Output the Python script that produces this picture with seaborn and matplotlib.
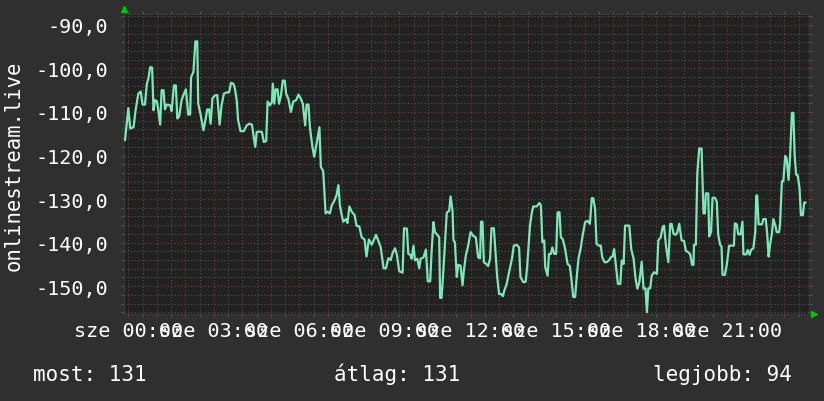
import pandas as pd
import matplotlib
matplotlib.use('Agg')
import matplotlib.pyplot as plt
from matplotlib.ticker import MultipleLocator
import seaborn as sns

# minutes since midnight, value
minutes = [
    -7, 0, 4, 11, 15, 21, 26, 30, 35, 39, 42, 46, 50, 53, 56, 60, 63, 67, 70, 74,
    77, 81, 88, 91, 96, 100, 103, 107, 112, 117, 121, 126, 130, 132, 137, 141, 145, 147, 152, 158,
    163, 166, 170, 173, 177, 182, 187, 192, 196, 201, 207, 212, 216, 221, 224, 228, 231, 236, 243, 249,
    255, 260, 263, 267, 270, 276, 281, 285,
    290, 293, 298, 302, 304, 307, 310, 314, 317, 321, 325, 329, 332, 337, 342, 347, 353, 358, 363, 367,
    372, 375, 379, 382, 387, 391, 396, 402, 405, 410, 415, 419, 424, 428, 433, 438, 442, 445, 449, 452,
    458, 461, 465, 470, 476, 480, 486, 491, 497, 501, 506, 512, 517, 521, 526, 531, 537, 542, 547, 552,
    556, 561, 565, 570, 577,
    580, 586, 589, 593, 596, 600, 603, 608, 612, 615, 621, 626, 630, 635, 638, 642, 645, 650, 654, 656,
    659, 663, 667, 670, 675, 678, 682, 684, 687, 691, 694, 699, 703, 706, 710, 715, 720, 726, 731, 736,
    740, 742, 745, 748, 753, 757, 761, 764, 769, 773, 776, 780, 784, 788, 791, 796, 801, 807, 811, 817,
    822, 825, 831, 836, 839, 842, 845, 849, 852, 859, 865, 868, 871, 875,
    877, 882, 885, 889, 892, 896, 900, 903, 907, 910, 914, 919, 924, 929, 933, 936, 940, 943, 947, 952,
    956, 961, 966, 971, 975, 978, 982, 985, 990, 994, 997, 1002, 1006, 1011, 1015, 1019, 1022, 1026, 1030, 1035,
    1038, 1042, 1045, 1050, 1054, 1058, 1063, 1067, 1071, 1075, 1080, 1084, 1088, 1091, 1094, 1098, 1101, 1106, 1112, 1115,
    1120, 1124, 1127, 1131, 1136, 1140, 1143, 1147, 1152, 1155, 1159, 1164,
    1169, 1173, 1178, 1182, 1186, 1189, 1190, 1194, 1197, 1201, 1206, 1210, 1213, 1215, 1220, 1222, 1226, 1229, 1234, 1238,
    1241, 1245, 1248, 1250, 1255, 1259, 1264, 1269, 1274, 1276, 1280, 1283, 1288, 1292, 1294, 1300, 1303, 1307, 1310, 1315,
    1319, 1321, 1323, 1326, 1333, 1336, 1341, 1344, 1347, 1350, 1354, 1357, 1361, 1364, 1369, 1371, 1375, 1378, 1382, 1385,
    1389, 1392, 1396, 1399, 1402, 1405, 1408, 1412, 1415, 1419, 1422, 1425,
]
values = [
    -116.5, -109.1, -113.8, -113.5, -109.8, -105.8, -105.3, -108.3, -108.3, -103.5,
    -102.4, -99.7, -99.8, -109.6, -107.3, -107.5, -109.6, -112.9, -105.0, -105.0,
    -109.4, -108.3, -108.5, -109.8, -103.9, -103.9, -111.5, -111.0, -107.3, -105.8,
    -104.8, -110.6, -110.6, -102.0, -100.8, -93.8, -93.8, -108.1, -110.6, -114.2,
    -111.4, -109.4, -109.4, -112.7, -106.9, -106.2, -106.1, -112.9, -108.6, -105.8,
    -105.5, -105.5, -103.3, -103.5, -104.5, -107.3, -111.9, -114.4, -114.4, -113.1,
    -112.7, -112.9, -115.2, -118.0, -114.6, -114.5, -114.6, -116.9,
    -116.7, -107.6, -108.5, -107.7, -103.5, -108.1, -104.8, -104.8, -108.1, -106.3,
    -102.8, -102.8, -105.8, -107.1, -110.0, -107.6, -107.3, -106.0, -107.0, -108.1,
    -113.1, -108.3, -108.3, -113.5, -117.8, -120.3, -117.3, -113.5, -122.6, -123.6,
    -133.3, -132.9, -133.3, -131.4, -130.5, -129.1, -126.8, -131.4, -133.7, -135.2,
    -134.6, -135.5, -131.7, -132.9, -133.7, -136.1, -136.3, -138.8, -139.3, -143.2,
    -139.3, -140.5, -139.3, -138.2, -139.6, -141.1, -145.9, -145.9, -143.6, -144.0,
    -142.4, -141.3, -142.8, -146.6, -146.9,
    -136.7, -136.8, -142.6, -142.8, -143.7, -140.7, -144.1, -143.7, -145.9, -143.7,
    -143.4, -141.6, -148.9, -148.9, -142.1, -135.3, -137.6, -138.2, -138.8, -152.7,
    -152.7, -146.0, -138.8, -133.1, -132.7, -129.4, -132.7, -139.5, -139.9, -147.9,
    -145.1, -145.3, -149.8, -146.4, -143.0, -140.7, -137.6, -138.5, -138.8, -143.4,
    -143.6, -135.2, -135.2, -144.5, -144.9, -145.4, -143.7, -136.7, -136.7, -143.0,
    -147.9, -151.8, -151.8, -152.3, -151.0, -149.5, -146.8, -143.7, -140.7, -140.5,
    -141.1, -147.9, -149.1, -149.0, -145.6, -140.7, -136.1, -133.1, -131.7, -131.7,
    -130.9, -131.5, -139.9, -139.5,
    -145.6, -147.6, -142.6, -142.6, -141.1, -142.6, -142.6, -133.1, -133.0, -138.8,
    -139.2, -141.5, -144.9, -145.4, -149.2, -152.5, -152.5, -148.3, -143.7, -141.1,
    -138.2, -135.3, -135.0, -135.7, -129.8, -129.8, -132.3, -140.3, -140.7, -140.7,
    -143.4, -144.5, -144.5, -144.1, -143.4, -143.1, -141.5, -145.6, -149.5, -149.5,
    -144.1, -144.9, -136.1, -136.1, -136.1, -141.5, -143.7, -148.2, -150.6, -149.1,
    -144.4, -150.6, -150.5, -156.0, -150.5, -150.5, -147.6, -146.8, -147.2, -139.5,
    -138.8, -136.5, -136.1, -140.7, -144.5, -135.7, -135.7, -138.0, -138.2, -137.6,
    -135.7, -139.5,
    -139.6, -141.9, -142.2, -142.7, -145.1, -145.1, -140.5, -140.5, -124.1, -118.4,
    -118.4, -133.3, -133.3, -128.7, -128.7, -138.6, -137.5, -129.7, -129.7, -130.6,
    -138.2, -140.5, -140.9, -147.4, -147.4, -145.1, -140.7, -140.7, -140.7, -135.6,
    -135.8, -138.1, -138.1, -135.2, -142.7, -142.7, -141.7, -142.8, -141.7, -141.3,
    -137.5, -129.2, -129.2, -135.8, -135.8, -134.6, -134.6, -137.9, -143.2, -140.5,
    -137.9, -134.6, -136.0, -137.6, -137.6, -136.0, -125.9, -125.9, -120.1, -120.7,
    -125.6, -120.7, -110.2, -110.2, -120.3, -124.4, -124.5, -127.4, -133.7, -133.7,
    -130.8, -130.8,
]

x_label_pos = [0, 180, 360, 540, 720, 900, 1080, 1260]
x_labels = ['sze 00:00', 'sze 03:00', 'sze 06:00', 'sze 09:00',
            'sze 12:00', 'sze 15:00', 'sze 18:00', 'sze 21:00']
y_ticks = [-150, -140, -130, -120, -110, -100, -90]
y_labels = ['-150,0', '-140,0', '-130,0', '-120,0', '-110,0', '-100,0', '-90,0']
series_name = 'onlinestream.live'
legend_items = ['most: 131', 'átlag: 131', 'legjobb: 94']

df = pd.DataFrame({'perc': minutes, 'ertek': values})

sns.set_theme(style='dark')
plt.rcParams['font.family'] = ['DejaVu Sans Mono']

bg = '#2f2f2f'
plot_bg = '#212121'
major_c = '#7a3b3b'
minor_c = '#525252'
fg = '#ffffff'

fig = plt.figure(figsize=(8.24, 4.02), dpi=100, facecolor=bg)
ax = fig.add_axes([0.1509, 0.2164, 0.8309, 0.7463])
ax.set_facecolor(plot_bg)

sns.lineplot(x='perc', y='ertek', data=df, ax=ax, color='#7de8b6',
             linewidth=1.6, estimator=None, sort=False, legend=False, zorder=5)
ax.set_xlabel('')
ax.set_ylabel('')

ax.set_xlim(-8.4, 1432)
ax.set_ylim(-156.4, -87.5)

ax.xaxis.set_major_locator(MultipleLocator(60))
ax.xaxis.set_minor_locator(MultipleLocator(30))
ax.yaxis.set_major_locator(MultipleLocator(10))
ax.yaxis.set_minor_locator(MultipleLocator(2))

ax.grid(which='minor', color=minor_c, linestyle=(0, (1, 2)), linewidth=0.8)
ax.grid(which='major', color=major_c, linestyle=(0, (1, 2)), linewidth=0.8)

ax.tick_params(which='both', direction='out', length=2.5, width=0.8,
               top=True, right=True, bottom=True, left=True,
               labelbottom=False, labelleft=False)
ax.tick_params(which='major', color=major_c)
ax.tick_params(which='minor', color=minor_c)

for s in ax.spines.values():
    s.set_color('#3a3a3a')
    s.set_linewidth(0.8)

# rrdtool-style labels (they overlap in the original too)
trans_x = ax.get_xaxis_transform()
for pos, lab in zip(x_label_pos, x_labels):
    ax.text(pos, -0.022, lab, transform=trans_x, ha='center', va='top',
            color=fg, fontsize=14.5, clip_on=False)
trans_y = ax.get_yaxis_transform()
for pos, lab in zip(y_ticks, y_labels):
    ax.text(-0.0235, pos, lab, transform=trans_y, ha='right', va='center_baseline',
            color=fg, fontsize=14.5, clip_on=False)

fig.text(14 / 824, 1 - 166 / 402, series_name, rotation=90, ha='center',
         va='center', color=fg, fontsize=14.8)

fig.text(33 / 824, 1 - 381 / 402, legend_items[0], ha='left', va='baseline',
         color=fg, fontsize=15)
fig.text(334 / 824, 1 - 381 / 402, legend_items[1], ha='left', va='baseline',
         color=fg, fontsize=15)
fig.text(792 / 824, 1 - 381 / 402, legend_items[2], ha='right', va='baseline',
         color=fg, fontsize=15)

# axis arrows
ax.plot([0], [1.016], marker='^', color='#00c800', markersize=4.5,
        transform=ax.transAxes, clip_on=False)
ax.plot([1.007], [0.0], marker='>', color='#00c800', markersize=4.5,
        transform=ax.transAxes, clip_on=False)

fig.savefig('out.png', dpi=100, facecolor=bg)
